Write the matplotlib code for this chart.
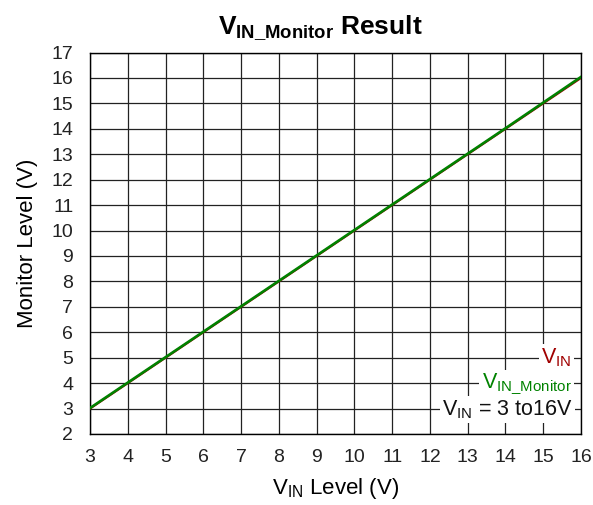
import matplotlib
matplotlib.use('Agg')
import matplotlib.pyplot as plt

plt.rcParams['font.family'] = ['Liberation Sans', 'DejaVu Sans']
plt.rcParams['mathtext.fontset'] = 'custom'
plt.rcParams['mathtext.rm'] = 'Liberation Sans'
plt.rcParams['mathtext.it'] = 'Liberation Sans'
plt.rcParams['mathtext.bf'] = 'Liberation Sans:bold'

# data
vin_level = [3, 4, 5, 6, 7, 8, 9, 10, 11, 12, 13, 14, 15, 16]
vin = [3, 4, 5, 6, 7, 8, 9, 10, 11, 12, 13, 14, 15, 16]
vin_monitor = [3.02, 4.02, 5.02, 6.02, 7.02, 8.02, 9.02, 10.02, 11.02, 12.02, 13.02, 14.02, 15.03, 16.04]
x_ticks = list(range(3, 17))
y_ticks = list(range(2, 18))

fig = plt.figure(figsize=(5.93, 5.05), dpi=100)
ax = fig.add_axes([90 / 593, 71 / 505, 491 / 593, 381.5 / 505])

ax.plot(vin_level, vin, color='#a00000', lw=1.6, zorder=3)
ax.plot(vin_level, vin_monitor, color='#008200', lw=1.9, zorder=4)

ax.set_xlim(3, 16)
ax.set_ylim(2, 17)
ax.set_xticks(x_ticks)
ax.set_yticks(y_ticks)
ax.grid(True, color='#222222', lw=0.9)
ax.tick_params(length=0, labelsize=14, colors='#222222')
ax.tick_params(axis='y', pad=12)
ax.tick_params(axis='x', pad=11)
for s in ax.spines.values():
    s.set_linewidth(1.0)

ax.set_xlabel(r'$\mathrm{V_{IN}}$ Level (V)', fontsize=16, labelpad=7)
ax.set_ylabel('Monitor Level (V)', fontsize=16, labelpad=10)

fig.text(320 / 593, 1 - 28 / 505, r'$\mathbf{V_{IN\_Monitor}}$ Result',
         ha='center', va='center', fontsize=19, fontweight='bold')

box = dict(facecolor='white', edgecolor='none', pad=1.5)
ax.text(15.75, 5.0, r'$\mathrm{V_{IN}}$', color='#a00000', fontsize=15.5,
        ha='right', va='center', bbox=box, zorder=5)
ax.text(15.75, 3.95, r'$\mathrm{V_{IN\_Monitor}}$', color='#008200', fontsize=15.5,
        ha='right', va='center', bbox=box, zorder=5)
ax.text(15.78, 2.95, r'$\mathrm{V_{IN}}$ = 3 to16V', color='#111111', fontsize=15.5,
        ha='right', va='center', bbox=box, zorder=5)

fig.savefig('out.png', dpi=100)
